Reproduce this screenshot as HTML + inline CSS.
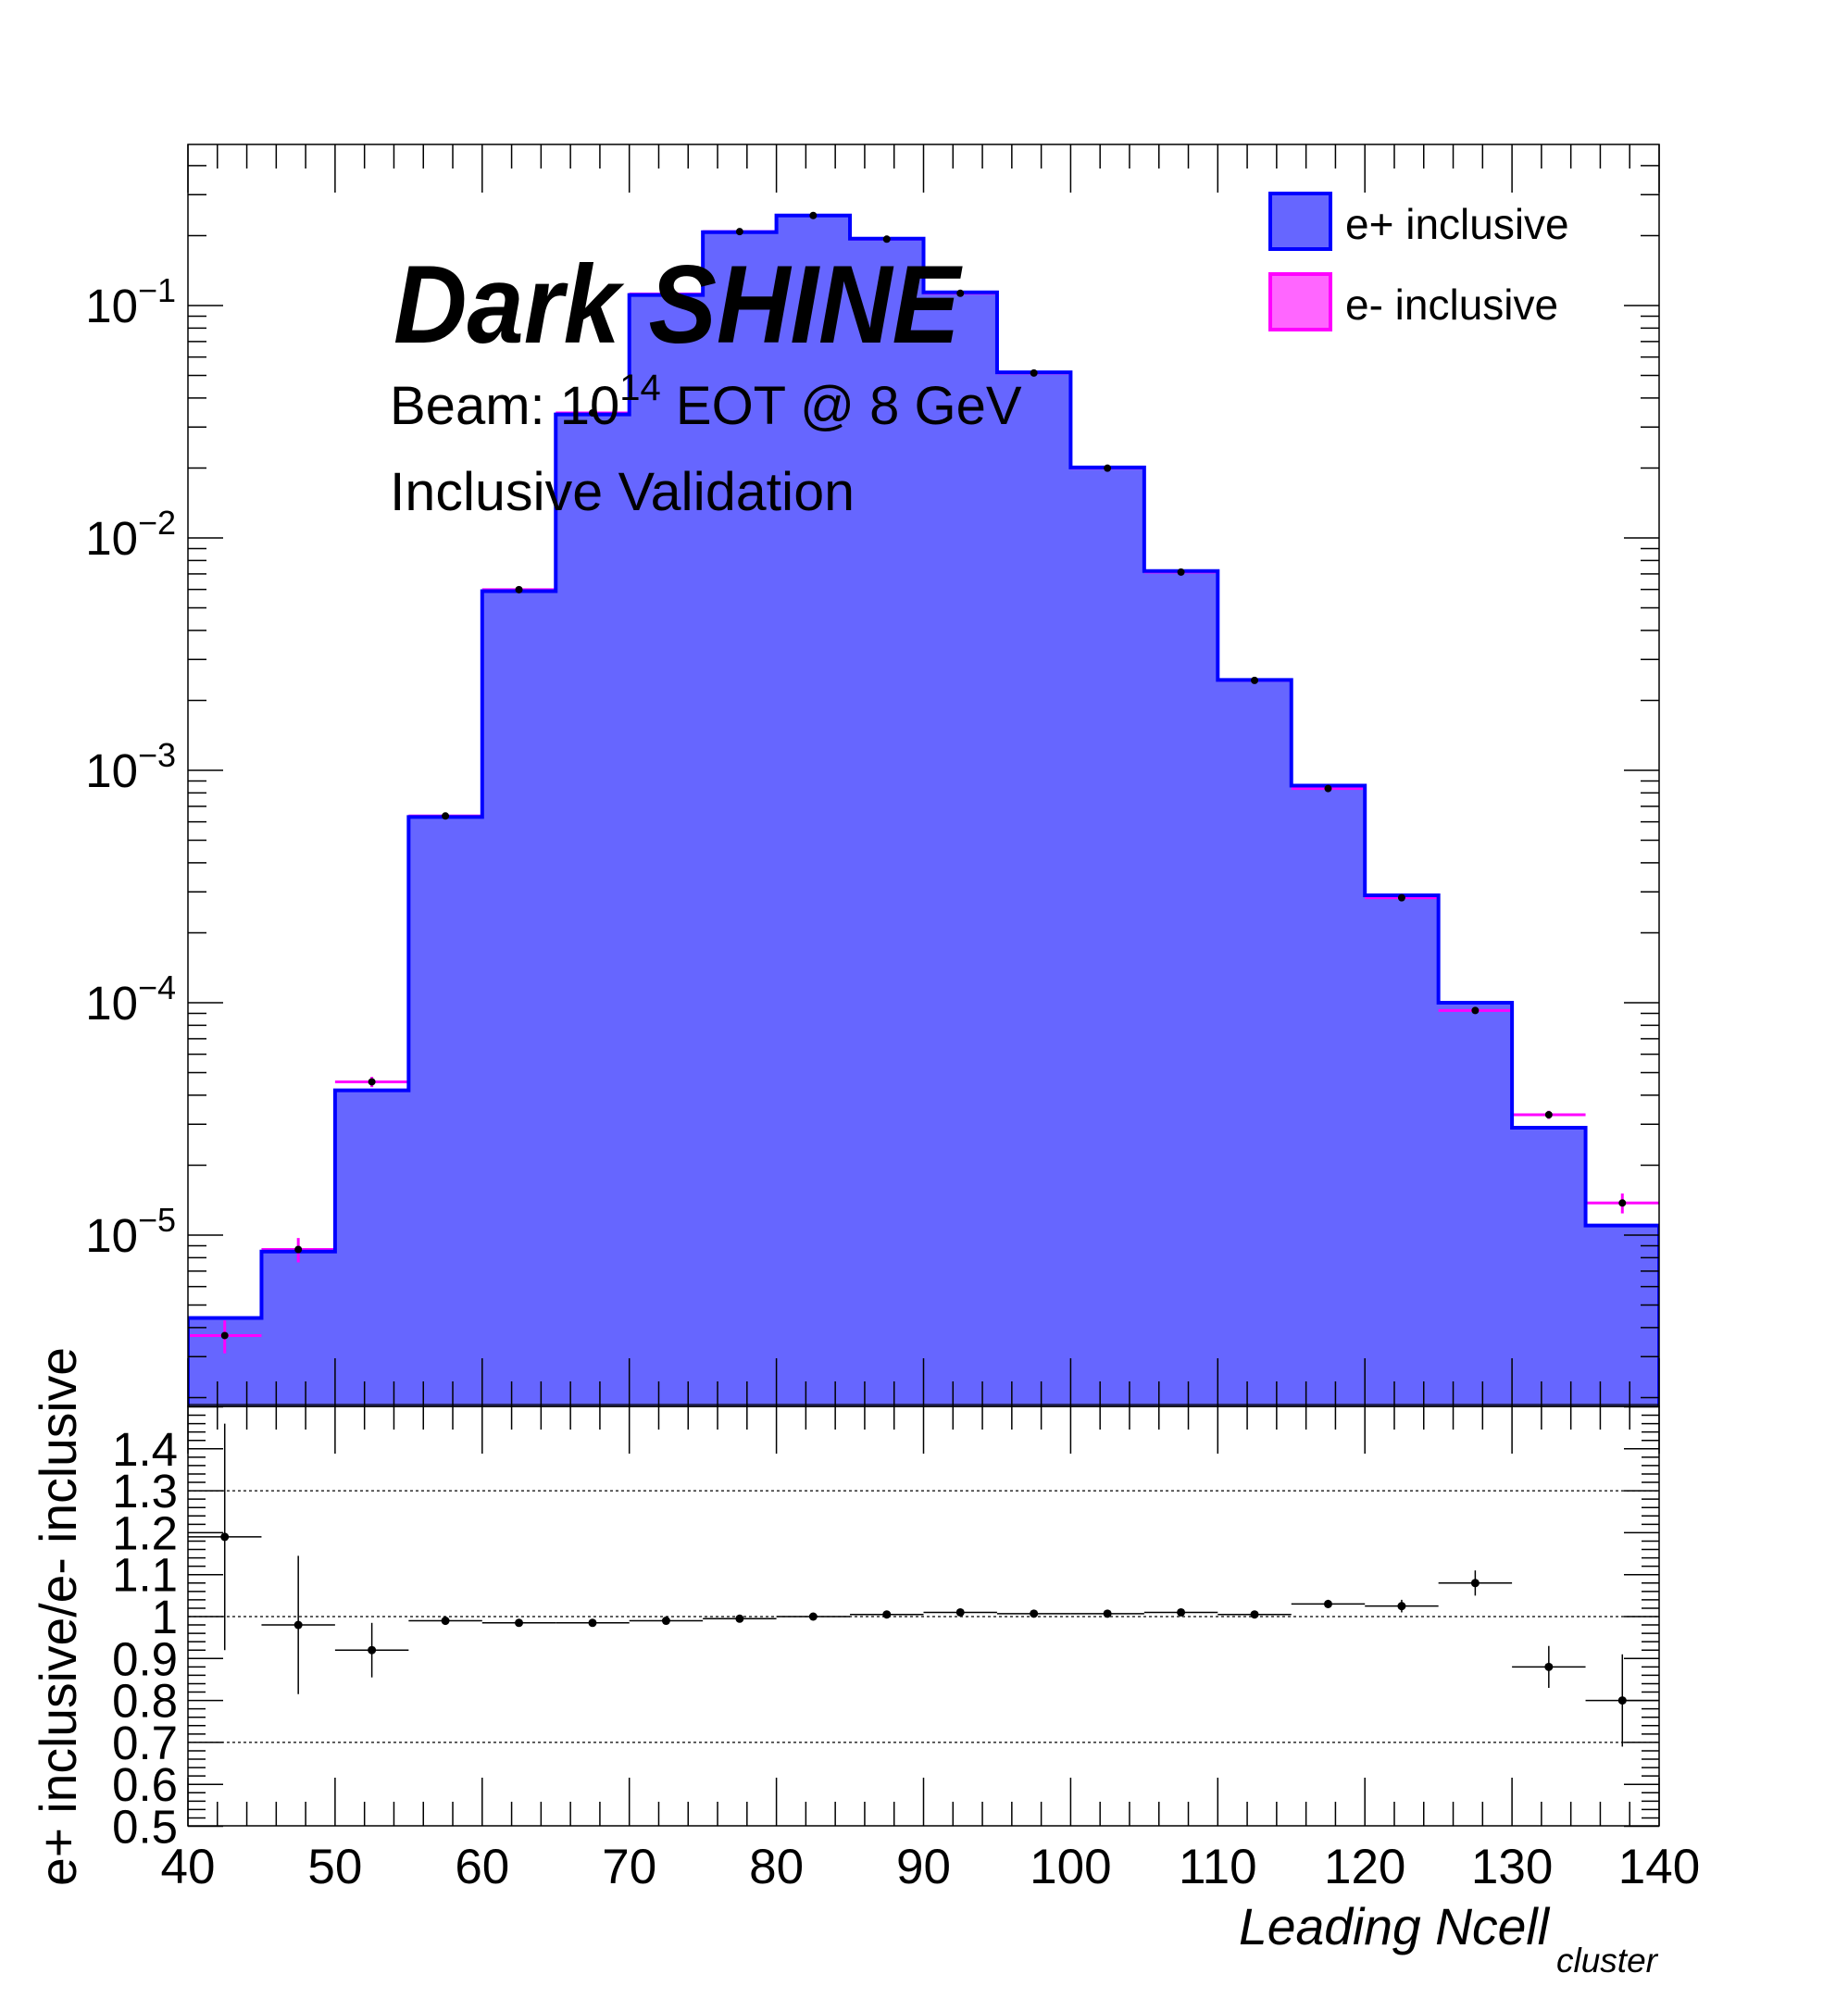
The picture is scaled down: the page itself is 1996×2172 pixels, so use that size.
<!DOCTYPE html>
<html><head><meta charset="utf-8"><style>
html,body{margin:0;padding:0;background:#fff;}
svg{display:block;font-family:"Liberation Sans",Arial,sans-serif;}
</style></head><body>
<div style="position:relative;width:1996px;height:2172px;">
<svg id="chart" width="1996" height="2172" viewBox="0 0 1996 2172" xmlns="http://www.w3.org/2000/svg" style="position:absolute;left:0;top:0;"></svg>
<svg width="1996" height="2172" style="position:absolute;left:0;top:0;font-family:'Liberation Sans',Arial,sans-serif;">
<text x="1338" y="2100" font-size="56" font-style="italic" textLength="335" lengthAdjust="spacingAndGlyphs">Leading Ncell</text>
<text x="1681" y="2130" font-size="37" font-style="italic">cluster</text>
<text transform="translate(82,1746) rotate(-90)" text-anchor="middle" font-size="56" textLength="582" lengthAdjust="spacingAndGlyphs">e+ inclusive/e- inclusive</text>
<text x="425" y="370" font-size="120" font-weight="bold" font-style="italic" textLength="612" lengthAdjust="spacingAndGlyphs">Dark SHINE</text>
<text x="421" y="458" font-size="58">Beam: 10<tspan dy="-26" font-size="40">14</tspan><tspan dy="26"> EOT @ 8 GeV</tspan></text>
<text x="421" y="551" font-size="58" textLength="502" lengthAdjust="spacingAndGlyphs">Inclusive Validation</text>
<g>
<rect x="1372" y="209" width="65" height="60" fill="#6666ff" stroke="#0000ff" stroke-width="4"/>
<text x="1453" y="258" font-size="46">e+ inclusive</text>
<rect x="1372" y="296" width="65" height="60" fill="#ff66ff" stroke="#ff00ff" stroke-width="4"/>
<text x="1453" y="345" font-size="46">e- inclusive</text>
</g>
</svg>
</div>
<script>
const binLow = [40,45,50,55,60,65,70,75,80,85,90,95,100,105,110,115,120,125,130,135];
const ePlus = [4.4e-6,8.5e-6,4.2e-5,6.3e-4,5.9e-3,0.034,0.111,0.207,0.244,0.194,0.114,0.0516,0.0201,0.0072,0.00245,8.6e-4,2.9e-4,1.0e-4,2.9e-5,1.1e-5];
const ratio = [1.19,0.98,0.92,0.99,0.985,0.985,0.99,0.995,1.0,1.005,1.01,1.007,1.007,1.01,1.005,1.03,1.025,1.08,0.88,0.80];
const ratioErr = [0.27,0.165,0.065,0.01,0.005,0.004,0.004,0.003,0.003,0.003,0.003,0.004,0.005,0.006,0.007,0.01,0.015,0.03,0.05,0.11];
const xTicks = [40,50,60,70,80,90,100,110,120,130,140];
const ratioTicks = [0.5,0.6,0.7,0.8,0.9,1,1.1,1.2,1.3,1.4];
const logTicks = [-5,-4,-3,-2,-1];
const binW = 5;

const NS="http://www.w3.org/2000/svg";
const svg=document.getElementById('chart');
const L=203,R=1792,T=156,MID=1519,B=1972;
const X=v=>L+(v-40)*(R-L)/100;
const Y=v=>330-(Math.log10(v)+1)*251;
const YR=v=>1746-(v-1)*453;
function el(tag,attrs,parent){const e=document.createElementNS(NS,tag);for(const k in attrs)e.setAttribute(k,attrs[k]);(parent||svg).appendChild(e);return e;}

const defs=el('defs',{});
const cp=el('clipPath',{id:'cu'},defs);el('rect',{x:L,y:T,width:R-L,height:MID-T},cp);
const cp2=el('clipPath',{id:'cr'},defs);el('rect',{x:L,y:MID,width:R-L,height:B-MID},cp2);

const gUp=el('g',{'clip-path':'url(#cu)'});


let d=`M${X(40)},${MID}`;
binLow.forEach((b,i)=>{const y=Y(ePlus[i]);d+=` L${X(b)},${y} L${X(b+binW)},${y}`;});
d+=` L${X(140)},${MID} Z`;
const fill=el('path',{d:d,fill:'#6666ff',stroke:'none'},gUp);


let ld=`M${X(40)},${MID}`;
binLow.forEach((b,i)=>{const y=Y(ePlus[i]);ld+=` L${X(b)},${y} L${X(b+binW)},${y}`;});
ld+=` L${X(140)},${MID}`;
binLow.forEach((b,i)=>{
  const v=ePlus[i]/ratio[i];const rel=ratioErr[i]/ratio[i]/1.4;
  const y=Y(v),xc=X(b+binW/2);
  const g=el('g',{},gUp);
  
  
  el('line',{x1:X(b),x2:X(b+binW),y1:y,y2:y,stroke:'#ff00ff','stroke-width':3},g);
  el('line',{x1:xc,x2:xc,y1:Y(v*(1+rel)),y2:Y(Math.max(v*(1-rel),1e-9)),stroke:'#ff00ff','stroke-width':3},g);
});
const line=el('path',{d:ld,fill:'none',stroke:'#0000ff','stroke-width':4},gUp);


binLow.forEach((b,i)=>{el('circle',{cx:X(b+binW/2),cy:Y(ePlus[i]/ratio[i]),r:4,fill:'#000'},gUp);});

el('rect',{x:L,y:T,width:R-L,height:MID-T,fill:'none',stroke:'#000','stroke-width':1.5});
el('rect',{x:L,y:MID,width:R-L,height:B-MID,fill:'none',stroke:'#000','stroke-width':1.5});
el('line',{x1:L,x2:R,y1:MID-2,y2:MID-2,stroke:'#000','stroke-width':1.2});

for(let v=40;v<=140;v+=2){
  const x=X(v),maj=v%10===0;
  el('line',{x1:x,x2:x,y1:T,y2:T+(maj?52:26),stroke:'#000','stroke-width':1.5});
  el('line',{x1:x,x2:x,y1:MID,y2:MID-(maj?52:27),stroke:'#000','stroke-width':1.5});
  el('line',{x1:x,x2:x,y1:MID,y2:MID+(maj?51:25),stroke:'#000','stroke-width':1.5});
  el('line',{x1:x,x2:x,y1:B,y2:B-(maj?52:26),stroke:'#000','stroke-width':1.5});
}
for(let e=-6;e<=0;e++){for(let m=1;m<=9;m++){const v=m*Math.pow(10,e);const y=Y(v);if(y<T||y>MID)continue;const len=m===1?38:20;
  el('line',{x1:L,x2:L+len,y1:y,y2:y,stroke:'#000','stroke-width':1.5});
  el('line',{x1:R,x2:R-len,y1:y,y2:y,stroke:'#000','stroke-width':1.5});}}
logTicks.forEach(e=>{const t=el('text',{x:190,y:Y(Math.pow(10,e))+18,'text-anchor':'end','font-size':51});
  
  
  t.innerHTML=`10<tspan dy="-22" font-size="36">−${-e}</tspan>`;});
for(let k=0;k<=50;k++){const v=0.5+k*0.02;const y=YR(v);const maj=k%5===0;const len=maj?38:19;
  el('line',{x1:L,x2:L+len,y1:y,y2:y,stroke:'#000','stroke-width':1.5});
  el('line',{x1:R,x2:R-len,y1:y,y2:y,stroke:'#000','stroke-width':1.5});}
ratioTicks.forEach(v=>{const t=el('text',{x:192,y:YR(v)+18,'text-anchor':'end','font-size':51});
  
  
  t.textContent=String(v);});
[0.7,1,1.3].forEach(v=>el('line',{x1:L,x2:R,y1:YR(v),y2:YR(v),stroke:'#000','stroke-width':1.2,'stroke-dasharray':'3,3'}));
const gR=el('g',{'clip-path':'url(#cr)'});
binLow.forEach((b,i)=>{const g=el('g',{},gR);
  
  
  const y=YR(ratio[i]),xc=X(b+binW/2);
  el('line',{x1:X(b),x2:X(b+binW),y1:y,y2:y,stroke:'#000','stroke-width':1.5},g);
  el('line',{x1:xc,x2:xc,y1:YR(ratio[i]+ratioErr[i]),y2:YR(ratio[i]-ratioErr[i]),stroke:'#000','stroke-width':1.5},g);
  el('circle',{cx:xc,cy:y,r:4.5,fill:'#000'},g);});
xTicks.forEach(v=>{const t=el('text',{x:X(v),y:2034,'text-anchor':'middle','font-size':53});
  
  
  t.textContent=String(v);});
</script>
</body></html>
